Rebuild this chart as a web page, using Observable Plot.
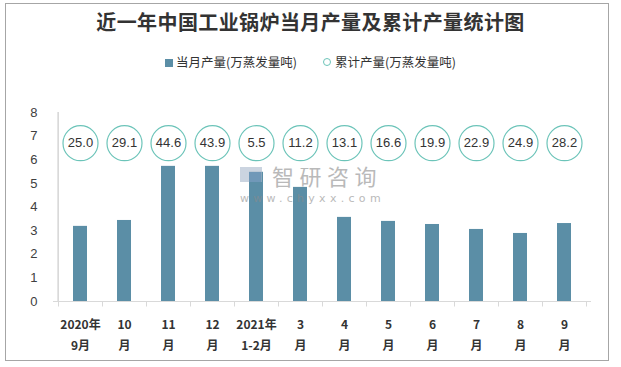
<!DOCTYPE html>
<html>
<head>
<meta charset="utf-8">
<script src="https://cdn.jsdelivr.net/npm/d3@7"></script>
<script src="https://cdn.jsdelivr.net/npm/@observablehq/plot@0.6"></script>
<style>
  body { margin: 0; background: #fff; font-family: "Noto Sans CJK SC", "Noto Sans", sans-serif; }
  #wrap { position: relative; width: 621px; height: 367px; overflow: hidden; }
  #frame { position: absolute; left: 5px; top: 3px; width: 604px; height: 358px; border: 1px solid #a6a6a6; box-sizing: border-box; }
  #title { position: absolute; top: 7px; left: 0; width: 621px; text-align: center; font-size: 20px; font-weight: bold; color: #333; letter-spacing: 0.4px; font-family: "Noto Sans CJK SC", sans-serif; }
  #legend { position: absolute; top: 52px; left: 0; width: 621px; text-align: center; font-size: 12.5px; color: #333; }
  #legend span.item { margin: 0 13px; }
  #legend .sq { display: inline-block; width: 8px; height: 8px; background: #5b8ea6; margin-right: 3px; vertical-align: 0px; }
  #legend .ci { display: inline-block; width: 6px; height: 6px; border: 1px solid #6cc4b9; border-radius: 50%; margin-right: 4px; vertical-align: 1px; }
  #chart { position: absolute; top: 100px; left: 0; }
  #wm { position: absolute; left: 240px; top: 163px; opacity: 0.6; pointer-events: none; }
  #wm .logo { position: absolute; left: 0; top: 4px; width: 22px; height: 15px; background: #aab8cc; }
  #wm .logo2 { position: absolute; left: 9px; top: 9px; width: 12px; height: 10px; background: #7f9fc4; }
  #wm .cn { position: absolute; left: 32px; top: 1px; font-size: 22px; line-height: 22px; letter-spacing: 5.5px; color: #8c8c8c; white-space: nowrap; }
  #wm .en { position: absolute; left: 0; top: 30px; font-size: 11px; line-height: 11px; letter-spacing: 4.3px; color: #8c8c8c; white-space: nowrap; font-family: "DejaVu Sans", sans-serif; }
</style>
</head>
<body>
<div id="wrap">
  <div id="frame"></div>
  <div id="title">近一年中国工业锅炉当月产量及累计产量统计图</div>
  <div id="legend"><span class="item"><span class="sq"></span>当月产量(万蒸发量吨)</span><span class="item"><span class="ci"></span>累计产量(万蒸发量吨)</span></div>
  <div id="chart"></div>
  <div id="wm"><div class="logo"></div><div class="logo2"></div><div class="cn">智研咨询</div><div class="en">www.chyxx.com</div></div>
</div>
<script>
const categories = ["2020年\n9月", "10\n月", "11\n月", "12\n月", "2021年\n1-2月", "3\n月", "4\n月", "5\n月", "6\n月", "7\n月", "8\n月", "9\n月"];
const monthly = [3.18, 3.43, 5.72, 5.72, 5.47, 4.83, 3.56, 3.39, 3.26, 3.05, 2.88, 3.30];
const cumulative = [25.0, 29.1, 44.6, 43.9, 5.5, 11.2, 13.1, 16.6, 19.9, 22.9, 24.9, 28.2];
const yTicks = [0, 1, 2, 3, 4, 5, 6, 7, 8];
const labelLevel = 6.7;

const data = categories.map((c, i) => ({cat: c, monthly: monthly[i], cum: cumulative[i]}));

const bandTicks = (index, scales, values, dims) => {
  const x = scales.x, y = scales.y;
  const step = x.step(), bw = x.bandwidth();
  const g = d3.create("svg:g").attr("stroke", "#d9d9d9").attr("stroke-width", 1);
  const y0 = Math.round(y(0)) + 0.5;
  const xs = [x(categories[0]) - (step - bw) / 2];
  for (const c of categories) xs.push(x(c) + bw + (step - bw) / 2);
  for (const px of xs) {
    const xx = Math.round(px) + 0.5;
    g.append("line").attr("x1", xx).attr("x2", xx).attr("y1", y0).attr("y2", y0 + 5);
  }
  return g.node();
};

const chart = Plot.plot({
  width: 621,
  height: 267,
  marginTop: 12,
  marginBottom: 66,
  marginLeft: 53,
  marginRight: 30,
  style: {fontFamily: "'Noto Sans CJK SC', 'Noto Sans', sans-serif", fontSize: "12px", color: "#333", background: "transparent"},
  x: {domain: categories, paddingInner: 0.69, paddingOuter: 0.345, axis: null},
  y: {domain: [0, 8], ticks: yTicks, axis: null},
  marks: [
    Plot.ruleX([0], {x: () => categories[0], y1: 0, y2: 8, stroke: "#bfbfbf", dx: -22.4}),
    Plot.axisY({ticks: yTicks, tickSize: 0, tickPadding: 12, stroke: "none", fill: "#404040", fontSize: 13, label: null, fontFamily: "Liberation Sans, sans-serif", textAnchor: "end", dx: -4}),
    Plot.barY(data, {x: "cat", y: "monthly", fill: "#5b8ea6"}),
    Plot.ruleY([0], {stroke: "#d9d9d9"}),
    bandTicks,
    Plot.dot(data, {x: "cat", y: () => labelLevel, r: 17.5, stroke: "#6cc4b9", strokeWidth: 1.2, fill: "white"}),
    Plot.text(data, {x: "cat", y: () => labelLevel, text: d => d.cum.toFixed(1), fontSize: 13, fill: "#333", fontFamily: "Liberation Sans, sans-serif"}),
    Plot.text(data, {x: "cat", text: "cat", frameAnchor: "bottom", lineAnchor: "top", dy: 13, lineHeight: 1.75, fontWeight: "bold", fontSize: 12, fill: "#333"})
  ]
});
document.getElementById("chart").appendChild(chart);
</script>
</body>
</html>
